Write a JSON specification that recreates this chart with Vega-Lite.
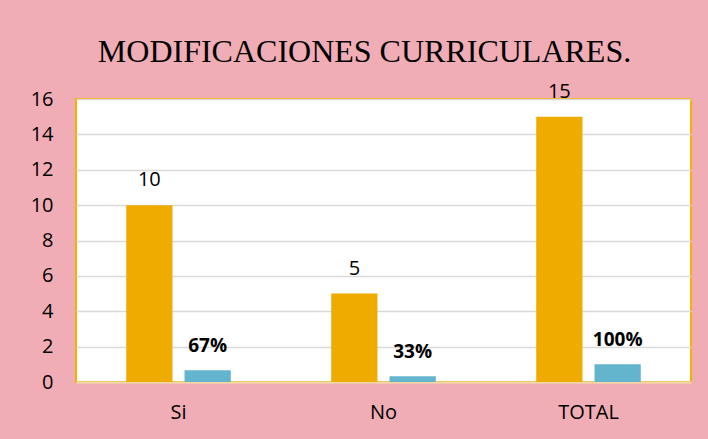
{
  "$schema": "https://vega.github.io/schema/vega-lite/v6.json",
  "width": 615,
  "height": 283,
  "autosize": {"type": "none"},
  "padding": {"left": 76, "top": 99, "right": 17, "bottom": 57},
  "background": "#F0ADB5",
  "title": {
    "text": "MODIFICACIONES CURRICULARES.",
    "font": "Liberation Serif",
    "fontSize": 32,
    "fontWeight": "normal",
    "color": "#000000",
    "anchor": "middle",
    "dx": -19,
    "baseline": "alphabetic",
    "offset": -12
  },
  "config": {
    "view": {"stroke": "#F5B000", "strokeWidth": 2, "fill": "#FFFFFF"}
  },
  "data": {
    "values": [
      {"categoria": "Si", "serie": "Frecuencia", "valor": 10, "etiqueta": "10"},
      {"categoria": "Si", "serie": "Porcentaje", "valor": 0.67, "etiqueta": "67%"},
      {"categoria": "No", "serie": "Frecuencia", "valor": 5, "etiqueta": "5"},
      {"categoria": "No", "serie": "Porcentaje", "valor": 0.33, "etiqueta": "33%"},
      {"categoria": "TOTAL", "serie": "Frecuencia", "valor": 15, "etiqueta": "15"},
      {"categoria": "TOTAL", "serie": "Porcentaje", "valor": 1, "etiqueta": "100%"}
    ]
  },
  "encoding": {
    "x": {
      "field": "categoria",
      "type": "nominal",
      "sort": ["Si", "No", "TOTAL"],
      "scale": {"paddingInner": 0.49, "paddingOuter": 0.245},
      "axis": {
        "title": null,
        "labelAngle": 0,
        "ticks": false,
        "domain": true,
        "domainColor": "#F3D7A0",
        "domainWidth": 2,
        "labelPadding": 20,
        "labelFont": "Open Sans",
        "labelFontSize": 20,
        "labelColor": "#000000",
        "grid": false
      }
    },
    "xOffset": {
      "field": "serie",
      "type": "nominal",
      "sort": ["Frecuencia", "Porcentaje"],
      "scale": {"paddingInner": 0.207}
    },
    "y": {
      "field": "valor",
      "type": "quantitative",
      "scale": {"domain": [0, 16], "nice": false},
      "axis": {
        "title": null,
        "values": [0, 2, 4, 6, 8, 10, 12, 14, 16],
        "domain": false,
        "ticks": false,
        "grid": true,
        "gridColor": "#D9D9D9",
        "gridWidth": 1.5,
        "labelPadding": 23,
        "labelFont": "Open Sans",
        "labelFontSize": 20,
        "labelColor": "#000000"
      }
    }
  },
  "layer": [
    {
      "mark": {"type": "bar"},
      "encoding": {
        "color": {
          "field": "serie",
          "type": "nominal",
          "scale": {"domain": ["Frecuencia", "Porcentaje"], "range": ["#F0AB00", "#62B5CC"]},
          "legend": null
        }
      }
    },
    {
      "transform": [{"filter": "datum.serie == 'Frecuencia'"}],
      "mark": {"type": "text", "baseline": "alphabetic", "dy": -19, "font": "Open Sans", "fontSize": 20, "color": "#000000"},
      "encoding": {"text": {"field": "etiqueta"}}
    },
    {
      "transform": [{"filter": "datum.serie == 'Porcentaje'"}],
      "mark": {"type": "text", "baseline": "alphabetic", "dy": -18, "font": "Open Sans", "fontSize": 19, "fontWeight": "bold", "color": "#000000"},
      "encoding": {"text": {"field": "etiqueta"}}
    }
  ]
}
